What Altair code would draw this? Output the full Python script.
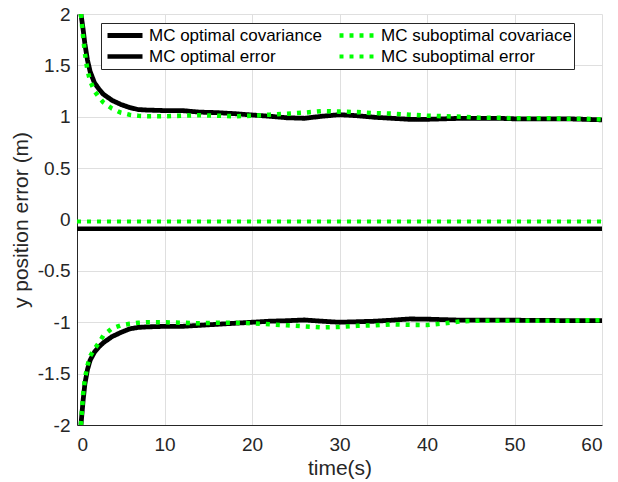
import altair as alt
import pandas as pd

# time samples for the covariance bounds
t_cov = [0.45, 0.7, 0.9, 1.2, 1.5, 2.0, 2.5, 3.0, 4.0, 5.0, 6.0, 7.0, 8.0, 10, 12, 14, 16, 18, 20,
         22, 24, 26, 28, 30, 32, 34, 36, 38, 40, 42, 44, 46, 48, 50, 52, 54, 56, 58, 60]

opt_upper = [2.0, 1.85, 1.71, 1.55, 1.44, 1.33, 1.27, 1.22, 1.16, 1.12, 1.09, 1.07, 1.065, 1.06,
             1.06, 1.045, 1.04, 1.03, 1.017, 1.005, 0.99, 0.985, 1.005, 1.02, 1.01, 0.995, 0.985,
             0.975, 0.975, 0.98, 0.985, 0.985, 0.985, 0.98, 0.98, 0.98, 0.98, 0.975, 0.97]
opt_lower = [-2.0, -1.76, -1.6, -1.46, -1.37, -1.29, -1.24, -1.2, -1.14, -1.1, -1.065, -1.05,
             -1.045, -1.04, -1.04, -1.03, -1.02, -1.01, -1.0, -0.99, -0.985, -0.978, -0.99, -1.0,
             -0.995, -0.99, -0.98, -0.968, -0.97, -0.975, -0.98, -0.98, -0.98, -0.98, -0.982,
             -0.982, -0.985, -0.985, -0.985]
sub_upper = [2.0, 1.78, 1.62, 1.45, 1.35, 1.25, 1.19, 1.14, 1.08, 1.04, 1.02, 1.01, 1.005, 1.005,
             1.01, 1.015, 1.01, 1.005, 1.01, 1.02, 1.03, 1.04, 1.055, 1.05, 1.045, 1.035, 1.03,
             1.02, 1.01, 1.005, 1.0, 0.99, 0.99, 0.985, 0.985, 0.985, 0.98, 0.98, 0.975]
sub_lower = [-2.0, -1.7, -1.55, -1.42, -1.33, -1.26, -1.2, -1.13, -1.06, -1.03, -1.015, -1.005,
             -1.0, -1.0, -1.005, -1.01, -1.005, -1.005, -1.01, -1.02, -1.03, -1.04, -1.05, -1.045,
             -1.035, -1.03, -1.02, -1.025, -1.027, -1.01, -0.99, -0.985, -0.985, -0.985, -0.985,
             -0.985, -0.985, -0.982, -0.98]

# mean error lines
t_err = [0, 60]
opt_err = [-0.09, -0.09]
sub_err = [-0.02, -0.02]

series_names = ["MC optimal covariance", "MC suboptimal covariace",
                "MC optimal error", "MC suboptimal error"]
colors = ["#000000", "#00ff00", "#000000", "#00ff00"]
dashes = [[1, 0], [4, 6], [1, 0], [4, 6]]
widths = [4.8, 4, 4.8, 4]

rows = []
def add(ts, vs, series, part):
    for t, v in zip(ts, vs):
        rows.append({"t": t, "v": v, "series": series, "part": part})

add(t_cov, opt_upper, series_names[0], "upper")
add(t_cov, opt_lower, series_names[0], "lower")
add(t_err, opt_err, series_names[2], "mean")
add(t_cov, sub_upper, series_names[1], "upper")
add(t_cov, sub_lower, series_names[1], "lower")
add(t_err, sub_err, series_names[3], "mean")
df = pd.DataFrame(rows)

leg = alt.Legend(
    title=None, orient="none", legendX=24, legendY=9, columns=2, direction="horizontal",
    symbolType="M-1,0H1", symbolSize=1225, clipHeight=21,
    labelFontSize=17, labelFont="Liberation Sans", labelColor="#000000",
    labelOffset=4, symbolOffset=2, columnPadding=13, rowPadding=0, padding=2,
    strokeColor="#262626", fillColor="#ffffff", labelLimit=400,
)

grid_col = "#dfdfdf"
axis_col = "#262626"

x_enc = alt.X("t:Q", scale=alt.Scale(domain=[0, 60], nice=False),
              axis=alt.Axis(values=[0, 10, 20, 30, 40, 50, 60], title="time(s)",
                            labelFontSize=19, titleFontSize=21, labelPadding=10,
                            titlePadding=3, tickSize=0))
y_enc = alt.Y("v:Q", scale=alt.Scale(domain=[-2, 2], nice=False),
              axis=alt.Axis(values=[-2, -1.5, -1, -0.5, 0, 0.5, 1, 1.5, 2],
                            labelExpr="toString(datum.value)",
                            title="y position error (m)", labelFontSize=19,
                            titleFontSize=21, labelPadding=7, titlePadding=6, tickSize=0))
color_enc = alt.Color("series:N", scale=alt.Scale(domain=series_names, range=colors), legend=leg)
dash_enc = alt.StrokeDash("series:N", scale=alt.Scale(domain=series_names, range=dashes), legend=leg)
width_enc = alt.StrokeWidth("series:N", scale=alt.Scale(domain=series_names, range=widths), legend=leg)

def layer(names):
    return alt.Chart(df).transform_filter(
        alt.FieldOneOfPredicate(field="series", oneOf=names)
    ).mark_line(clip=True, strokeCap="butt").encode(
        x=x_enc, y=y_enc, color=color_enc, strokeDash=dash_enc, strokeWidth=width_enc,
        detail="part:N", order="t:Q",
    )

chart = alt.layer(
    layer([series_names[0], series_names[2]]),
    layer([series_names[1], series_names[3]]),
).properties(
    width=525, height=411,
    autosize=alt.AutoSizeParams(type="none"),
    padding={"left": 69, "top": 6, "right": 8, "bottom": 57},
).configure_view(stroke=None).configure_axis(
    grid=True, gridColor=grid_col, gridWidth=1, domainColor=axis_col, domainWidth=1,
    labelColor=axis_col, titleColor=axis_col, labelFont="Liberation Sans",
    titleFont="Liberation Sans", titleFontWeight="normal",
)

chart.save("out.html", embed_options={"renderer": "svg", "actions": False})
